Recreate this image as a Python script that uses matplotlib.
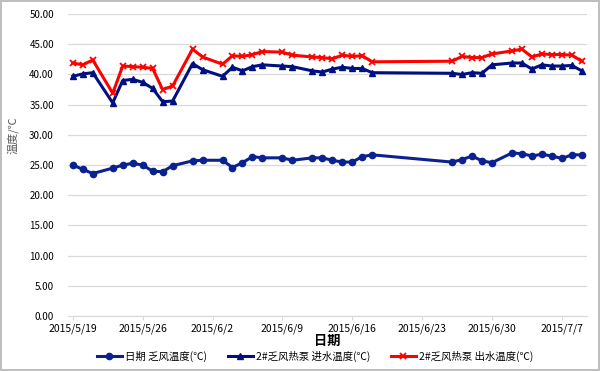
import matplotlib
matplotlib.use("Agg")
import matplotlib.pyplot as plt
import pandas as pd

plt.rcParams['font.family'] = ['Noto Sans CJK SC', 'DejaVu Sans']

dates = ["2015-05-19", "2015-05-20", "2015-05-21", "2015-05-23", "2015-05-24", "2015-05-25",
         "2015-05-26", "2015-05-27", "2015-05-28", "2015-05-29", "2015-05-31", "2015-06-01",
         "2015-06-03", "2015-06-04", "2015-06-05", "2015-06-06", "2015-06-07", "2015-06-09",
         "2015-06-10", "2015-06-12", "2015-06-13", "2015-06-14", "2015-06-15", "2015-06-16",
         "2015-06-17", "2015-06-18", "2015-06-26", "2015-06-27", "2015-06-28", "2015-06-29",
         "2015-06-30", "2015-07-02", "2015-07-03", "2015-07-04", "2015-07-05", "2015-07-06",
         "2015-07-07", "2015-07-08", "2015-07-09"]

air_temp = [25.0, 24.3, 23.6, 24.5, 25.0, 25.3, 25.0, 24.0, 23.9, 24.9, 25.7, 25.8,
            25.8, 24.6, 25.4, 26.4, 26.2, 26.2, 25.8, 26.2, 26.2, 25.8, 25.5, 25.5,
            26.4, 26.7, 25.5, 25.9, 26.5, 25.7, 25.4, 27.0, 26.9, 26.5, 26.8, 26.5,
            26.1, 26.7, 26.7]

inlet_temp = [39.7, 40.1, 40.3, 35.3, 39.0, 39.2, 38.7, 37.7, 35.5, 35.6, 41.8, 40.8,
              39.7, 41.2, 40.6, 41.3, 41.6, 41.4, 41.3, 40.6, 40.4, 40.9, 41.2, 41.0,
              41.0, 40.3, 40.2, 40.0, 40.3, 40.2, 41.6, 41.9, 41.9, 40.9, 41.6, 41.4,
              41.4, 41.5, 40.6]

outlet_temp = [41.9, 41.6, 42.4, 36.9, 41.4, 41.3, 41.2, 41.0, 37.5, 38.1, 44.2, 42.9,
               41.7, 43.1, 43.0, 43.3, 43.8, 43.7, 43.2, 42.9, 42.8, 42.6, 43.2, 43.0,
               43.1, 42.1, 42.2, 43.0, 42.8, 42.8, 43.4, 43.9, 44.2, 42.9, 43.4, 43.3,
               43.3, 43.2, 42.2]

tick_dates = ["2015-05-19", "2015-05-26", "2015-06-02", "2015-06-09",
              "2015-06-16", "2015-06-23", "2015-06-30", "2015-07-07"]
tick_labels = ["2015/5/19", "2015/5/26", "2015/6/2", "2015/6/9",
               "2015/6/16", "2015/6/23", "2015/6/30", "2015/7/7"]

series_names = ["日期 乏风温度(℃)", "2#乏风热泵 进水温度(℃)", "2#乏风热泵 出水温度(℃)"]

x = pd.to_datetime(dates)
xt = pd.to_datetime(tick_dates)

fig = plt.figure(figsize=(6, 3.71), dpi=100)
fig.patch.set_edgecolor('#BFBFBF')
fig.patch.set_linewidth(1.5)
ax = fig.add_axes([0.113, 0.148, 0.865, 0.814])

ax.plot(x, air_temp, color='#0A2290', lw=2.2, marker='o', ms=4.5, label=series_names[0])
ax.plot(x, inlet_temp, color='#001080', lw=2.2, marker='^', ms=5, label=series_names[1])
ax.plot(x, outlet_temp, color='#FF0000', lw=2.2, marker='x', ms=5, mew=1.3, label=series_names[2])

ax.set_ylim(0, 50)
ax.set_yticks([0, 5, 10, 15, 20, 25, 30, 35, 40, 45, 50])
ax.yaxis.set_major_formatter(plt.FuncFormatter(lambda v, p: f"{v:.2f}"))
ax.set_xlim(x[0] - pd.Timedelta(hours=12), x[-1] + pd.Timedelta(hours=12))
ax.set_xticks(xt)
ax.set_xticklabels(tick_labels)

ax.grid(axis='y', color='#D9D9D9', lw=0.9)
ax.set_axisbelow(True)
for s in ['top', 'right', 'left']:
    ax.spines[s].set_visible(False)
ax.spines['bottom'].set_color('#D9D9D9')
ax.tick_params(axis='y', length=0, labelsize=7, pad=10)
ax.tick_params(axis='x', length=3, color='#D9D9D9', labelsize=7.5, pad=2)

ax.set_xlabel("日期", fontsize=9.5, fontweight='bold', labelpad=0)
ax.set_ylabel("温度/℃", fontsize=8, color='#595959')
ax.yaxis.set_label_coords(-0.095, 0.6)

fig.legend(*ax.get_legend_handles_labels(), loc='center', bbox_to_anchor=(0.525, 0.04),
           ncol=3, frameon=False, fontsize=7.5, handlelength=2.4, columnspacing=2.0,
           handletextpad=0.3)

fig.savefig("out.png", dpi=100, edgecolor=fig.get_edgecolor())
